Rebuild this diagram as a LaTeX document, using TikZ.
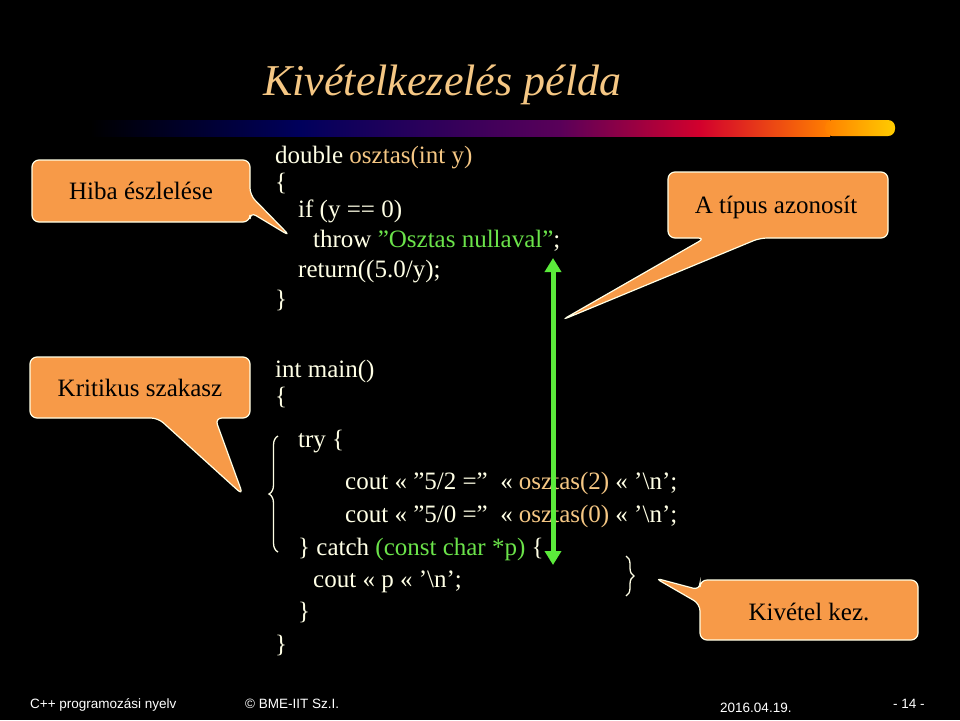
\documentclass[tikz,border=0pt]{standalone}
\usepackage{fontspec}
\setmainfont{Liberation Serif}
\setsansfont{Liberation Sans}
\usetikzlibrary{decorations.pathreplacing,arrows.meta}
\definecolor{cream}{HTML}{FFFFE6}
\definecolor{tan}{HTML}{F5C784}
\definecolor{codegreen}{HTML}{6BE34A}
\definecolor{callout}{HTML}{F79A48}
\definecolor{arrowgreen}{HTML}{5BEA3B}
\tikzset{
  code/.style={anchor=base west, inner sep=0pt, text=cream, font=\fontsize{25}{30}\selectfont},
  foot/.style={anchor=base west, inner sep=0pt, text=white, font=\sffamily\fontsize{13.5}{16}\selectfont},
  bubble/.style={fill=callout, draw=cream, line width=1.2pt, rounded corners=7pt},
  bubbletext/.style={inner sep=0pt, text=black, font=\fontsize{25}{30}\selectfont}
}
\begin{document}
\begin{tikzpicture}[x=1pt, y=-1pt]
	\fill[black] (0,0) rectangle (960,720);
	\useasboundingbox (0,0) rectangle (960,720);
	% title and bar
	\node[anchor=base west, inner sep=0pt, text=tan, font=\itshape\fontsize{44}{50}\selectfont] (title) at (263,95) {Kivételkezelés példa};
	\shade[left color=black, right color=black!40!blue!60!black] (90,120) rectangle (300,136);
	\shade[left color=black!40!blue!60!black, right color=violet!70!black] (300,120) rectangle (560,136);
	\shade[left color=violet!70!black, right color=purple!70!red] (560,120) rectangle (700,136);
	\shade[left color=purple!70!red, right color=orange] (700,120) rectangle (830,136);
	\shade[left color=orange, right color=orange!40!yellow, rounded corners=7pt] (825,120) rectangle (895,136);
	% osztas
	\node[code] (l1) at (275,163) {double \textcolor{tan}{osztas(int y)}};
	\node[code] (l2) at (275,190) {\{};
	\node[code] (l3) at (298,217) {if (y == 0)};
	\node[code] (l4) at (313,247) {throw \textcolor{codegreen}{"Osztas nullaval"};};
	\node[code] (l5) at (298,277) {return((5.0/y);};
	\node[code] (l6) at (275,307) {\}};
	% main
	\node[code] (m1) at (275,377) {int main()};
	\node[code] (m2) at (275,404) {\{};
	\node[code] (m3) at (298,447) {try \{};
	\node[code] (m4) at (345,489) {cout {\textless\textless} "5/2 =" \ {\textless\textless} \textcolor{tan}{osztas(2)} {\textless\textless} '\textbackslash n';};
	\node[code] (m5) at (345,522) {cout {\textless\textless} "5/0 =" \ {\textless\textless} \textcolor{tan}{osztas(0)} {\textless\textless} '\textbackslash n';};
	\node[code] (m6) at (298,555) {\} catch \textcolor{codegreen}{(const char *p)} \{};
	\node[code] (m7) at (313,587) {cout {\textless\textless} p {\textless\textless} '\textbackslash n';};
	\node[code] (m8) at (298,619) {\}};
	\node[code] (m9) at (275,652) {\}};
	% braces
	\draw[cream, line width=1.3pt, decorate, decoration={brace, amplitude=9pt}] (278,552) -- (278,436);
	\draw[cream, line width=1.3pt, decorate, decoration={brace, amplitude=8pt}] (626,556) -- (626,596);
	% green arrow
	\coordinate (throwpt) at (553,258);
	\coordinate (catchpt) at (553,565);
	\draw[arrowgreen, line width=5pt, {Triangle[length=14pt,width=16pt]}-{Triangle[length=14pt,width=16pt]}] (throwpt) -- (catchpt);
	% callouts
	\path[bubble] (32,160) -- (250,160) -- (250,195) -- (290,236) -- (250,212) -- (250,222) -- (32,222) -- cycle;
	\node[bubbletext] (hiba) at (141,191) {Hiba észlelése};
	\path[bubble] (30,357) -- (250,357) -- (250,418) -- (215,418) -- (243,495) -- (158,418) -- (30,418) -- cycle;
	\node[bubbletext] (krit) at (140,388) {Kritikus szakasz};
	\path[bubble] (668,172) -- (888,172) -- (888,238) -- (760,238) -- (562,320) -- (705,238) -- (668,238) -- cycle;
	\node[bubbletext] (tipus) at (776,207) {A típus azonosít};
	\path[bubble] (700,580) -- (918,580) -- (918,640) -- (700,640) -- (700,604) -- (655,578) -- (700,590) -- cycle;
	\node[bubbletext] (kivetel) at (809,612) {Kivétel kez.};
	% footer
	\node[foot] (f1) at (30,708) {C++ programozási nyelv};
	\node[foot] (f2) at (245,708) {© BME-IIT Sz.I.};
	\node[foot] (f3) at (720,712) {2016.04.19.};
	\node[foot] (f4) at (893,708) {- 14 -};
\end{tikzpicture}
\end{document}
